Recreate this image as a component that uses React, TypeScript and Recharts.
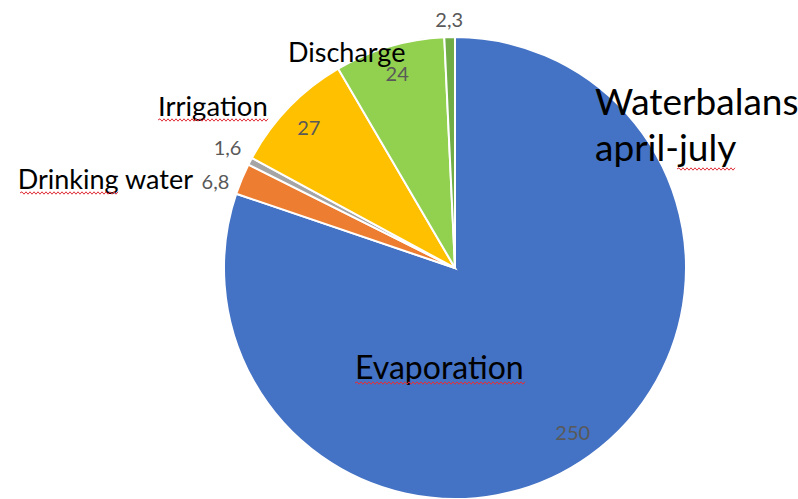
import { PieChart, Pie, Cell } from "recharts";

const categories = ["Evaporation", "Drinking water", "", "Irrigation", "Discharge", ""];
const values = [250, 6.8, 1.6, 27, 24, 2.3];
const colors = ["#4472C4", "#ED7D31", "#A5A5A5", "#FFC000", "#92D050", "#70AD47"];

const data = categories.map((name, i) => ({ name, value: values[i] }));

const RAD = Math.PI / 180;
const FONT = "Lato, 'Open Sans', sans-serif";

// value labels: fraction of the radius along the slice middle, plus a small nudge
const valuePlace = [
  { r: 0.875, dx: 0, dy: 0 },
  { r: 1.105, dx: -4, dy: 11 },
  { r: 1.11, dx: 0, dy: -3 },
  { r: 0.88, dx: 0, dy: 0 },
  { r: 0.88, dx: 0, dy: 0 },
  { r: 1.08, dx: 0, dy: 0 },
];

// category names, offset from the pie centre (baseline)
const namePlace: ({ dx: number; dy: number; anchor: "start" | "end"; size: number } | null)[] = [
  { dx: -100, dy: 111, anchor: "start", size: 32 },
  { dx: -262, dy: -79, anchor: "end", size: 27 },
  null,
  { dx: -297, dy: -152, anchor: "start", size: 27.5 },
  { dx: -167, dy: -206, anchor: "start", size: 27 },
  null,
];

// red spell-check squiggles under some words: [x, y, width]
const squiggles = [
  [20, 193, 98],
  [158, 120, 110],
  [355, 383, 170],
  [677, 169, 58],
];

const fmt = (v: number) => String(v).replace(".", ",");

const wave = (x: number, y: number, w: number) => {
  let d = `M${x},${y}`;
  for (let i = 2, up = true; i <= w; i += 2, up = !up) d += ` L${x + i},${y + (up ? -1.2 : 1.2)}`;
  return d;
};

const renderLabel = (props: any) => {
  const { cx, cy, midAngle, outerRadius, index, value, name } = props;
  const vp = valuePlace[index];
  const x = cx + outerRadius * vp.r * Math.cos(-midAngle * RAD) + vp.dx;
  const y = cy + outerRadius * vp.r * Math.sin(-midAngle * RAD) + vp.dy;
  const np = namePlace[index];
  return (
    <g key={`lbl-${index}`}>
      <text
        x={x}
        y={y}
        textAnchor="middle"
        dominantBaseline="central"
        fill="#595959"
        fontSize={20}
        fontFamily={FONT}
      >
        {fmt(value)}
      </text>
      {np && (
        <text
          x={cx + np.dx}
          y={cy + np.dy}
          textAnchor={np.anchor}
          fill="#000"
          fontSize={np.size}
          fontFamily={FONT}
        >
          {name}
        </text>
      )}
    </g>
  );
};

export default function App() {
  return (
    <div
      style={{
        position: "absolute",
        left: 0,
        top: 0,
        width: 798,
        height: 499,
        background: "#fff",
        overflow: "hidden",
      }}
    >
      <PieChart width={798} height={499} margin={{ top: 0, right: 0, bottom: 0, left: 0 }}>
        <Pie
          data={data}
          dataKey="value"
          nameKey="name"
          cx={455}
          cy={268}
          outerRadius={231}
          startAngle={90}
          endAngle={-270}
          stroke="#fff"
          strokeWidth={2}
          label={renderLabel}
          labelLine={false}
          isAnimationActive={false}
        >
          {data.map((_, i) => (
            <Cell key={i} fill={colors[i]} />
          ))}
        </Pie>
      </PieChart>
      <svg
        width={798}
        height={499}
        style={{ position: "absolute", left: 0, top: 0, pointerEvents: "none" }}
      >
        <text x={595} y={115} fontSize={37} fontFamily={FONT} fill="#000">
          Waterbalans
        </text>
        <text x={595} y={161} fontSize={37} fontFamily={FONT} fill="#000">
          april-july
        </text>
        {squiggles.map(([x, y, w], i) => (
          <path key={i} d={wave(x, y, w)} fill="none" stroke="#e0303a" strokeWidth={1} />
        ))}
      </svg>
    </div>
  );
}
